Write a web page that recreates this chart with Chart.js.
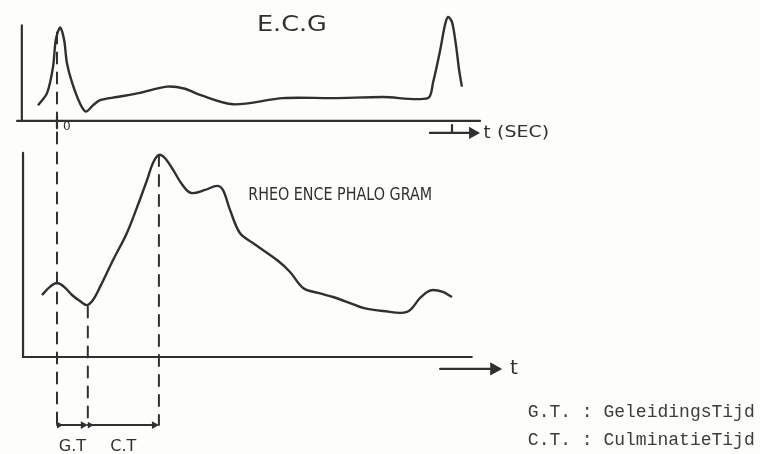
<!DOCTYPE html>
<html>
<head>
<meta charset="utf-8">
<script src="https://cdn.jsdelivr.net/npm/chart.js@4/dist/chart.umd.min.js"></script>
<style>
  html, body { margin: 0; padding: 0; background: #fdfdfb; }
  #wrap { width: 760px; height: 454px; }
</style>
</head>
<body>
<div id="wrap"><canvas id="rheoChart" width="760" height="454"></canvas></div>
<script>
// time in seconds (0 = R-top of the ECG), amplitudes in arbitrary units
const ecgTime  = [-0.048, -0.025, -0.010, -0.003, 0.008, 0.018, 0.025, 0.038, 0.058, 0.073, 0.091, 0.109,
                  0.152, 0.210, 0.278, 0.324, 0.362, 0.446, 0.572, 0.699, 0.825, 0.939, 0.952, 0.970,
                  0.982, 0.990, 1.000, 1.010, 1.018, 1.025];
const ecgValue = [0.15, 0.27, 0.52, 0.78, 0.90, 0.78, 0.56, 0.37, 0.17, 0.09, 0.15, 0.20,
                  0.23, 0.27, 0.33, 0.31, 0.25, 0.16, 0.22, 0.22, 0.23, 0.22, 0.37, 0.68,
                  0.92, 1.00, 0.95, 0.73, 0.49, 0.33];

const rheoTime  = [-0.038, -0.018, 0.000, 0.018, 0.038, 0.058, 0.076, 0.091, 0.109, 0.142, 0.177, 0.203,
                   0.228, 0.243, 0.258, 0.273, 0.294, 0.316, 0.339, 0.375, 0.405, 0.420, 0.438, 0.463,
                   0.496, 0.557, 0.590, 0.623, 0.661, 0.699, 0.742, 0.775, 0.825, 0.886, 0.919, 0.937,
                   0.952, 0.977, 1.000];
const rheoValue = [0.307, 0.347, 0.366, 0.347, 0.307, 0.277, 0.257, 0.282, 0.347, 0.480, 0.614, 0.743,
                   0.876, 0.960, 1.000, 0.985, 0.926, 0.856, 0.812, 0.827, 0.847, 0.827, 0.728, 0.614,
                   0.564, 0.480, 0.421, 0.342, 0.317, 0.297, 0.267, 0.243, 0.228, 0.223, 0.292, 0.322,
                   0.332, 0.322, 0.297];

// G.T. starts at the R-top, C.T. starts at the foot of the rheo wave, ends at its top
const markerTimes  = [0, 0.078, 0.258];
const markerLabels = ['G.T', 'C.T'];
const ecgTickLabels = ['0', '1'];
const legendLines = ['G.T. : GeleidingsTijd', 'C.T. : CulminatieTijd'];

const ink = '#303030';

const toPoints = (xs, ys) => xs.map((x, i) => ({ x: x, y: ys[i] }));

function arrowHead(ctx, x, y, size) {
  ctx.beginPath();
  ctx.moveTo(x, y);
  ctx.lineTo(x - size, y - size * 0.55);
  ctx.lineTo(x - size, y + size * 0.55);
  ctx.closePath();
  ctx.fill();
}

// draw text squeezed/stretched to a given pixel width
function fitText(ctx, text, x, y, width) {
  const w = ctx.measureText(text).width;
  ctx.save();
  ctx.translate(x, y);
  ctx.scale(width / w, 1);
  ctx.fillText(text, 0, 0);
  ctx.restore();
}

const sketchPlugin = {
  id: 'sketch',
  afterDatasetsDraw(chart) {
    const ctx = chart.ctx;
    const X = v => chart.scales.x.getPixelForValue(v);
    const YE = v => chart.scales.yEcg.getPixelForValue(v);
    const YR = v => chart.scales.yRheo.getPixelForValue(v);

    ctx.save();
    ctx.strokeStyle = ink;
    ctx.fillStyle = ink;
    ctx.lineCap = 'round';
    ctx.lineWidth = 2.2;

    // axes of the ECG panel
    ctx.beginPath();
    ctx.moveTo(X(-0.089), YE(0.92));
    ctx.lineTo(X(-0.089), YE(0));
    ctx.moveTo(X(-0.101), YE(0));
    ctx.lineTo(X(1.071), YE(0));
    ctx.stroke();

    // axes of the rheo panel
    ctx.beginPath();
    ctx.moveTo(X(-0.086), YR(1.01));
    ctx.lineTo(X(-0.086), YR(0));
    ctx.lineTo(X(1.05), YR(0));
    ctx.stroke();

    // time arrows
    ctx.beginPath();
    ctx.moveTo(X(0.944), YE(-0.115));
    ctx.lineTo(X(1.058), YE(-0.115));
    ctx.moveTo(X(0.970), YR(-0.059));
    ctx.lineTo(X(1.110), YR(-0.059));
    ctx.stroke();
    arrowHead(ctx, X(1.071), YE(-0.115), 11);
    arrowHead(ctx, X(1.127), YR(-0.059), 12);

    // ECG ticks (0 at the R-top, 1 s on the arrow)
    ctx.beginPath();
    ctx.moveTo(X(0), YE(0.05));
    ctx.lineTo(X(0), YE(-0.07));
    ctx.moveTo(X(1), YE(-0.04));
    ctx.lineTo(X(1), YE(-0.115));
    ctx.stroke();
    ctx.font = '12px "DejaVu Sans"';
    ctx.textAlign = 'center';
    ctx.textBaseline = 'middle';
    ctx.fillText(ecgTickLabels[0], X(0.025), YE(-0.06));

    // dashed guide lines
    ctx.setLineDash([11, 9]);
    ctx.lineWidth = 2;
    ctx.beginPath();
    ctx.moveTo(X(markerTimes[0]), YE(0.85));
    ctx.lineTo(X(markerTimes[0]), YR(-0.337));
    ctx.moveTo(X(markerTimes[1]), YR(0.25));
    ctx.lineTo(X(markerTimes[1]), YR(-0.337));
    ctx.moveTo(X(markerTimes[2]), YR(1.0));
    ctx.lineTo(X(markerTimes[2]), YR(-0.337));
    ctx.stroke();
    ctx.setLineDash([]);

    // G.T / C.T intervals
    const yBar = YR(-0.337);
    ctx.beginPath();
    ctx.moveTo(X(markerTimes[0]), yBar);
    ctx.lineTo(X(markerTimes[1]) - 4, yBar);
    ctx.moveTo(X(markerTimes[1]), yBar);
    ctx.lineTo(X(markerTimes[2]) - 4, yBar);
    ctx.stroke();
    arrowHead(ctx, X(markerTimes[1]), yBar, 7);
    arrowHead(ctx, X(markerTimes[2]), yBar, 7);
    arrowHead(ctx, X(markerTimes[0]) + 6, yBar, 6);
    arrowHead(ctx, X(markerTimes[1]) + 6, yBar, 6);

    ctx.font = '16px "DejaVu Sans"';
    ctx.textBaseline = 'middle';
    for (let i = 0; i < markerLabels.length; i++) {
      const mid = (markerTimes[i] + markerTimes[i + 1]) / 2;
      ctx.fillText(markerLabels[i], X(mid), YR(-0.446));
    }

    // titles
    ctx.textAlign = 'left';
    ctx.font = '21px "DejaVu Sans"';
    fitText(ctx, 'E.C.G', X(0.506), YE(0.92), 70);

    ctx.font = '18px "DejaVu Sans"';
    fitText(ctx, 'RHEO ENCE PHALO GRAM', X(0.484), YR(0.80), 184);

    ctx.font = '20px "DejaVu Sans"';
    ctx.fillText('t', X(1.147), YR(-0.059));
    ctx.font = '18px "DejaVu Sans"';
    ctx.fillText('t', X(1.080), YE(-0.115));
    ctx.font = '15px "DejaVu Sans"';
    fitText(ctx, '(SEC)', X(1.114), YE(-0.115), 52);

    // legend
    ctx.fillStyle = '#3c3c3c';
    ctx.font = '18px "Liberation Mono"';
    ctx.fillText(legendLines[0], X(1.192), YR(-0.272));
    ctx.fillText(legendLines[1], X(1.192), YR(-0.411));

    ctx.restore();
  }
};

const ctx = document.getElementById('rheoChart').getContext('2d');
const chart = new Chart(ctx, {
  type: 'line',
  data: {
    datasets: [{
      label: 'E.C.G',
      data: toPoints(ecgTime, ecgValue),
      yAxisID: 'yEcg',
      borderColor: ink,
      borderWidth: 2.4,
      pointRadius: 0,
      tension: 0.3,
      fill: false
    }, {
      label: 'Rheoencephalogram',
      data: toPoints(rheoTime, rheoValue),
      yAxisID: 'yRheo',
      borderColor: ink,
      borderWidth: 2.4,
      pointRadius: 0,
      tension: 0.35,
      fill: false
    }]
  },
  options: {
    responsive: false,
    animation: false,
    devicePixelRatio: 1,
    layout: { padding: 0 },
    plugins: {
      legend: { display: false },
      tooltip: { enabled: false }
    },
    scales: {
      x: { type: 'linear', min: -0.1443, max: 1.7797, display: false },
      yEcg: { type: 'linear', min: -3.202, max: 1.163, display: false },
      yRheo: { type: 'linear', min: -0.480, max: 1.767, display: false }
    }
  },
  plugins: [sketchPlugin]
});
</script>
</body>
</html>
